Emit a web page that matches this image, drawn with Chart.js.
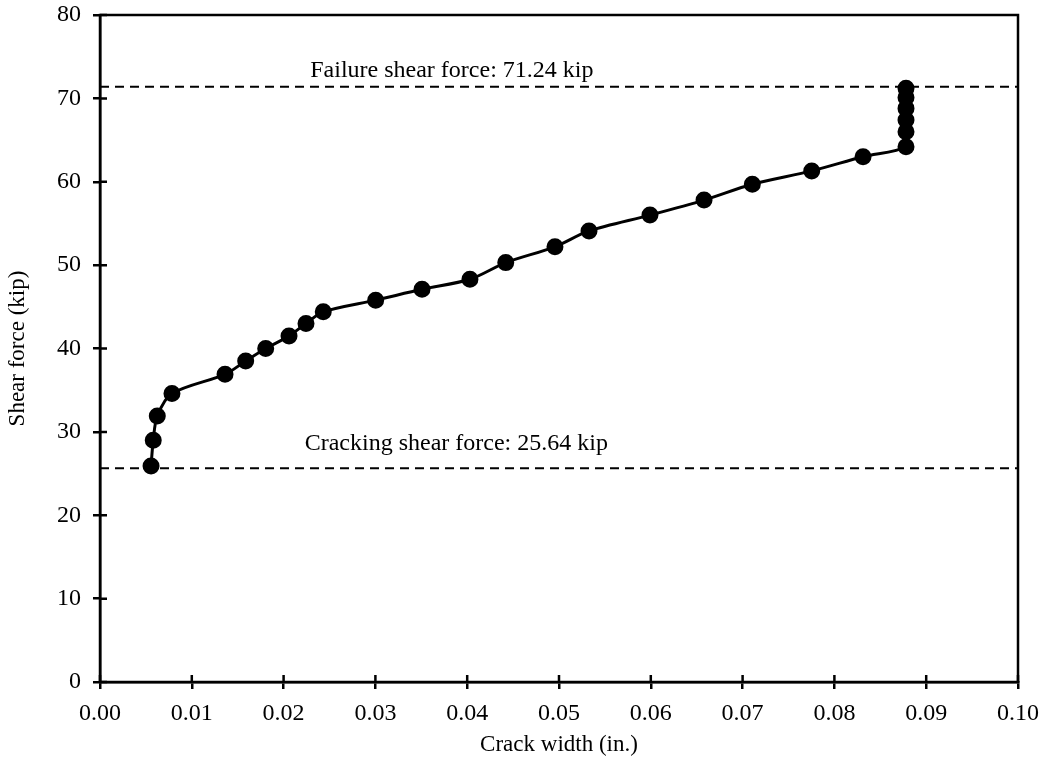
<!DOCTYPE html>
<html>
<head>
<meta charset="utf-8">
<script src="https://cdn.jsdelivr.net/npm/chart.js@4/dist/chart.umd.min.js"></script>
<style>
  html, body { margin: 0; padding: 0; background: #fff; }
  #wrap { width: 1042px; height: 759px; }
</style>
</head>
<body>
<div id="wrap"><canvas id="shearChart" width="1042" height="759"></canvas></div>
<script>
// crack width (in.) vs shear force (kip)
const crackWidth = [0.00556, 0.0058, 0.00624, 0.00784, 0.01362, 0.01587, 0.01805, 0.02059,
  0.02244, 0.02432, 0.03003, 0.03508, 0.0403, 0.0442, 0.04956, 0.05327, 0.05991, 0.0658,
  0.07106, 0.07753, 0.08312, 0.0878, 0.0878, 0.0878, 0.0878, 0.0878, 0.0878];
const shearForce = [25.9, 29.0, 31.9, 34.6, 36.9, 38.5, 40.0, 41.5,
  43.0, 44.4, 45.8, 47.1, 48.3, 50.3, 52.2, 54.1, 56.0, 57.8,
  59.7, 61.3, 63.0, 64.2, 66.0, 67.4, 68.8, 70.1, 71.2];

const crackingForce = 25.64;
const failureForce = 71.24;
const failureLineY = 71.4;   // dashed line sits a touch above the label value in the picture
const refLineX = [0, 0.1];

const xTicks = [0, 0.01, 0.02, 0.03, 0.04, 0.05, 0.06, 0.07, 0.08, 0.09, 0.1];
const yTicks = [0, 10, 20, 30, 40, 50, 60, 70, 80];

const notes = [
  { text: 'Failure shear force: 71.24 kip', x: 0.0229, y: 73.3 },
  { text: 'Cracking shear force: 25.64 kip', x: 0.0223, y: 28.6 }
];

const FONT = 'Liberation Serif, Times New Roman, serif';

// box round the plot, inner halves of the ticks, and the two notes
const framePlugin = {
  id: 'frame',
  afterDraw(chart) {
    const { ctx, chartArea: a, scales } = chart;
    ctx.save();
    ctx.strokeStyle = '#000';
    ctx.lineWidth = 2.5;
    ctx.strokeRect(a.left, a.top, a.right - a.left, a.bottom - a.top);
    ctx.beginPath();
    xTicks.forEach(v => {
      const px = scales.x.getPixelForValue(v);
      ctx.moveTo(px, a.bottom);
      ctx.lineTo(px, a.bottom - 7);
    });
    yTicks.forEach(v => {
      const py = scales.y.getPixelForValue(v);
      ctx.moveTo(a.left, py);
      ctx.lineTo(a.left + 7, py);
    });
    ctx.stroke();

    ctx.fillStyle = '#000';
    ctx.font = '24px ' + FONT;
    ctx.textAlign = 'left';
    ctx.textBaseline = 'middle';
    notes.forEach(n => {
      ctx.fillText(n.text, scales.x.getPixelForValue(n.x), scales.y.getPixelForValue(n.y));
    });
    ctx.restore();
  }
};

const ctx = document.getElementById('shearChart').getContext('2d');

const chart = new Chart(ctx, {
  type: 'scatter',
  data: {
    datasets: [
      {
        label: 'Crack width',
        data: crackWidth.map((x, i) => ({ x: x, y: shearForce[i] })),
        showLine: true,
        borderColor: '#000',
        backgroundColor: '#000',
        borderWidth: 3,
        pointRadius: 7,
        pointHoverRadius: 7,
        tension: 0.3,
        order: 1
      },
      {
        label: 'Cracking',
        data: refLineX.map(x => ({ x: x, y: crackingForce })),
        showLine: true,
        borderColor: '#000',
        borderWidth: 2,
        borderDash: [9, 6],
        pointRadius: 0,
        order: 2
      },
      {
        label: 'Failure',
        data: refLineX.map(x => ({ x: x, y: failureLineY })),
        showLine: true,
        borderColor: '#000',
        borderWidth: 2,
        borderDash: [9, 6],
        pointRadius: 0,
        order: 2
      }
    ]
  },
  options: {
    responsive: false,
    animation: false,
    layout: { padding: { top: 15, right: 24, left: 0, bottom: 0 } },
    plugins: {
      legend: { display: false },
      tooltip: { enabled: false }
    },
    scales: {
      x: {
        type: 'linear',
        min: 0,
        max: 0.1,
        afterBuildTicks: scale => { scale.ticks = xTicks.map(v => ({ value: v })); },
        afterFit: scale => {
          scale.height = 77;
          scale.paddingLeft = 0;
          scale.paddingRight = 0;
        },
        border: { color: '#000', width: 2.5 },
        grid: { drawOnChartArea: false, drawTicks: true, tickLength: 7, color: '#000', lineWidth: 2.5 },
        ticks: {
          color: '#000',
          padding: 10,
          font: { family: FONT, size: 24 },
          callback: v => v.toFixed(2)
        },
        title: {
          display: true,
          text: 'Crack width (in.)',
          color: '#000',
          font: { family: FONT, size: 23 },
          padding: { top: 0, bottom: 0 }
        }
      },
      y: {
        type: 'linear',
        min: 0,
        max: 80,
        afterBuildTicks: scale => { scale.ticks = yTicks.map(v => ({ value: v })); },
        afterFit: scale => {
          scale.width = 100;
          scale.paddingTop = 0;
          scale.paddingBottom = 0;
        },
        border: { color: '#000', width: 2.5 },
        grid: { drawOnChartArea: false, drawTicks: true, tickLength: 7, color: '#000', lineWidth: 2.5 },
        ticks: {
          color: '#000',
          padding: 12,
          font: { family: FONT, size: 24 }
        },
        title: {
          display: true,
          text: 'Shear force (kip)',
          color: '#000',
          font: { family: FONT, size: 23 },
          padding: { top: 4, bottom: 0 }
        }
      }
    }
  },
  plugins: [framePlugin]
});
</script>
</body>
</html>
